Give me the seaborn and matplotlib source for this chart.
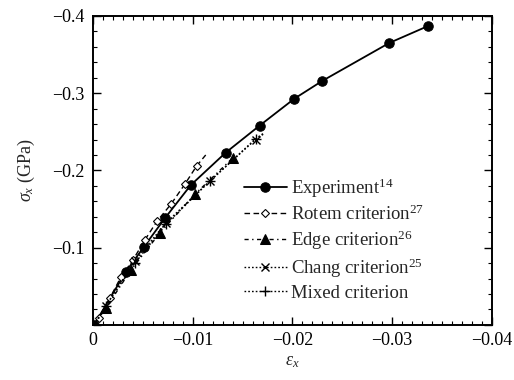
import matplotlib
matplotlib.use("Agg")
import matplotlib.pyplot as plt
import seaborn as sns
import numpy as np
from matplotlib.ticker import MultipleLocator, FixedLocator

# ---- data ----
exp_x = [-0.0001, -0.0033, -0.0051, -0.0072, -0.0098, -0.0133, -0.0167, -0.0202, -0.0230, -0.0297, -0.0336]
exp_y = [0.0, -0.069, -0.101, -0.138, -0.181, -0.223, -0.258, -0.293, -0.316, -0.365, -0.387]

rotem_x = [-0.0001, -0.0006, -0.0017, -0.0028, -0.0040, -0.0052, -0.0064, -0.0078, -0.0092, -0.0104, -0.0113]
rotem_y = [0.0, -0.009, -0.035, -0.062, -0.084, -0.110, -0.134, -0.156, -0.182, -0.206, -0.220]

edge_x = [-0.0001, -0.0013, -0.0038, -0.0067, -0.0102, -0.0140]
edge_y = [0.0, -0.022, -0.071, -0.119, -0.169, -0.216]

chang_x = [-0.0001, -0.0013, -0.0042, -0.0073, -0.0117, -0.0163, -0.0172]
chang_y = [0.0, -0.025, -0.083, -0.132, -0.186, -0.240, -0.248]

mixed_x = [-0.0001, -0.0013, -0.0042, -0.0073, -0.0117, -0.0163, -0.0172]
mixed_y = [0.0, -0.025, -0.080, -0.130, -0.186, -0.241, -0.249]

labels = ["Experiment$^{14}$", "Rotem criterion$^{27}$", "Edge criterion$^{26}$",
          "Chang criterion$^{25}$", "Mixed criterion"]

sns.set_theme(style="ticks")
plt.rcParams['font.family'] = ['Liberation Serif', 'DejaVu Serif']
plt.rcParams['mathtext.fontset'] = 'custom'
plt.rcParams['mathtext.rm'] = 'Liberation Serif'
plt.rcParams['mathtext.it'] = 'Liberation Serif:italic'
plt.rcParams['mathtext.bf'] = 'Liberation Serif:bold'

fig = plt.figure(figsize=(5.14, 3.80), dpi=100)
ax = fig.add_axes([0.181, 0.145, 0.776, 0.813])

sns.lineplot(x=exp_x, y=exp_y, sort=False, ax=ax, color='black', lw=1.3,
             marker='o', markersize=6.8, markeredgecolor='black', markerfacecolor='black',
             label=labels[0])
sns.lineplot(x=rotem_x, y=rotem_y, sort=False, ax=ax, color='black', lw=1.0,
             linestyle=(0, (4, 2.5)), marker='D', markersize=3.8, markerfacecolor='white',
             markeredgecolor='black', markeredgewidth=0.8, markevery=list(range(1, 10)),
             label=labels[1])
sns.lineplot(x=edge_x, y=edge_y, sort=False, ax=ax, color='black', lw=1.0,
             linestyle=(0, (3, 2.5, 1, 2.5)), marker='^', markersize=6.5,
             markerfacecolor='black', markeredgecolor='black', markevery=list(range(1, 6)),
             label=labels[2])
sns.lineplot(x=chang_x, y=chang_y, sort=False, ax=ax, color='black', lw=1.0,
             linestyle=(0, (1.2, 1.5)), marker='x', markersize=6,
             markeredgewidth=1.0, markeredgecolor='black', markevery=list(range(1, 6)),
             label=labels[3])
sns.lineplot(x=mixed_x, y=mixed_y, sort=False, ax=ax, color='black', lw=1.0,
             linestyle=(0, (1.2, 1.5)), marker='+', markersize=7,
             markeredgewidth=1.0, markeredgecolor='black', markevery=list(range(1, 6)),
             label=labels[4])

ax.set_xlim(0, -0.04)
ax.set_ylim(0, -0.4)

ax.xaxis.set_major_locator(FixedLocator([0, -0.01, -0.02, -0.03, -0.04]))
ax.set_xticklabels(['0', '\u22120.01', '\u22120.02', '\u22120.03', '\u22120.04'])
ax.xaxis.set_minor_locator(MultipleLocator(0.001))
ax.yaxis.set_major_locator(FixedLocator([0, -0.1, -0.2, -0.3, -0.4]))
ax.set_yticklabels(['', '\u22120.1', '\u22120.2', '\u22120.3', '\u22120.4'])
ax.yaxis.set_minor_locator(MultipleLocator(0.02))

ax.tick_params(which='both', direction='in', top=True, right=True, colors='black',
               labelsize=13)
ax.tick_params(axis='x', which='major', length=6, width=1.0, pad=5)
ax.tick_params(axis='y', which='major', length=6, width=1.0, pad=6)
ax.tick_params(which='minor', length=3, width=0.8)
for s in ax.spines.values():
    s.set_linewidth(1.4)
    s.set_color('black')

ax.set_xlabel(r'$\varepsilon_x$', fontsize=13, labelpad=3)
ax.set_ylabel(r'$\sigma_x$ (GPa)', fontsize=13, labelpad=11)

leg = ax.legend(loc='lower right', bbox_to_anchor=(0.872, 0.02), frameon=False,
                fontsize=13.5, handlelength=2.3, handletextpad=0.2,
                labelspacing=0.25, borderaxespad=0.5)

fig.savefig('out.png', dpi=100)
